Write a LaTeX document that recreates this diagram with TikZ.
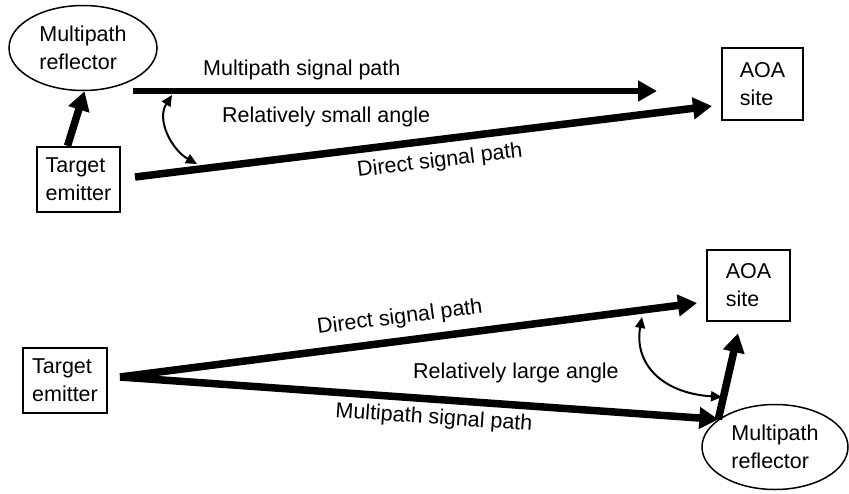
\documentclass[tikz,border=0pt]{standalone}
\usepackage{fontspec}
\setmainfont{Liberation Sans}
\usetikzlibrary{arrows.meta,shapes.geometric}
\begin{document}
\begin{tikzpicture}[x=1pt,y=-1pt,
  txt/.style={font=\fontsize{21.5}{28}\selectfont, inner sep=0pt},
  boxnode/.style={txt, draw, line width=2.5pt, align=left, minimum width=83pt, minimum height=65pt},
  aoanode/.style={txt, draw, line width=2.5pt, align=left, minimum width=81pt, minimum height=72pt},
  reflnode/.style={txt, ellipse, draw, line width=1.5pt, align=left, minimum width=148pt, minimum height=85pt},
  sig/.style={line width=7.5pt, -{Triangle[length=19pt,width=21pt]}},
  sigthin/.style={line width=6.5pt, -{Triangle[length=19pt,width=20pt]}},
  ang/.style={line width=2pt, {Triangle[length=11pt,width=10pt]}-{Triangle[length=11pt,width=10pt]}}
]
\useasboundingbox (0,0) rectangle (849,493);

% ---------- top panel ----------
\node[reflnode] (mr1) at (83,48) {Multipath\\reflector};
\node[boxnode] (te1) at (78.5,179.5) {Target\\emitter};
\node[aoanode] (aoa1) at (762.5,84) {AOA\\site};

\coordinate (mpS) at (133,91);
\coordinate (mpE) at (657,91);
\coordinate (dS) at (135,177);
\coordinate (dE) at (712,106);
\coordinate (a1S) at (172,95);
\coordinate (a1E) at (197,164);

\draw[sig] (te1.108) -- (mr1.272);
\draw[sigthin] (mpS) -- (mpE);
\draw[sig] (dS) -- (dE);
\draw[ang] (a1S) .. controls (156,120) and (172,150) .. (a1E);

\node[txt, anchor=base west] (l1) at (203,75) {Multipath signal path};
\node[txt, anchor=base west] (l2) at (222,122) {Relatively small angle};
\node[txt, anchor=base west, rotate=7] (l3) at (358,177) {Direct signal path};

% ---------- bottom panel ----------
\node[boxnode, minimum width=84pt] (te2) at (65,380.5) {Target\\emitter};
\node[aoanode, minimum width=83pt, minimum height=71pt] (aoa2) at (748.5,285.5) {AOA\\site};
\node[reflnode, minimum width=146pt] (mr2) at (775,447) {Multipath\\reflector};

\coordinate (apex) at (120,377);
\coordinate (d2E) at (697,303);
\coordinate (a2S) at (642,317);
\coordinate (a2E) at (722,397);

\draw[sig] (apex) -- (d2E);
\draw[sig] (apex) -- (mr2.154);
\draw[sig] (mr2.154) -- ([xshift=-10.5pt,yshift=-11pt]aoa2.south);
\draw[ang] (a2S) .. controls (634,362) and (660,393) .. (a2E);

\node[txt, anchor=base west, rotate=7.3] (l4) at (318,334) {Direct signal path};
\node[txt, anchor=base west] (l5) at (413,378) {Relatively large angle};
\node[txt, anchor=base west, rotate=-4] (l6) at (335,417) {Multipath signal path};
\end{tikzpicture}
\end{document}
